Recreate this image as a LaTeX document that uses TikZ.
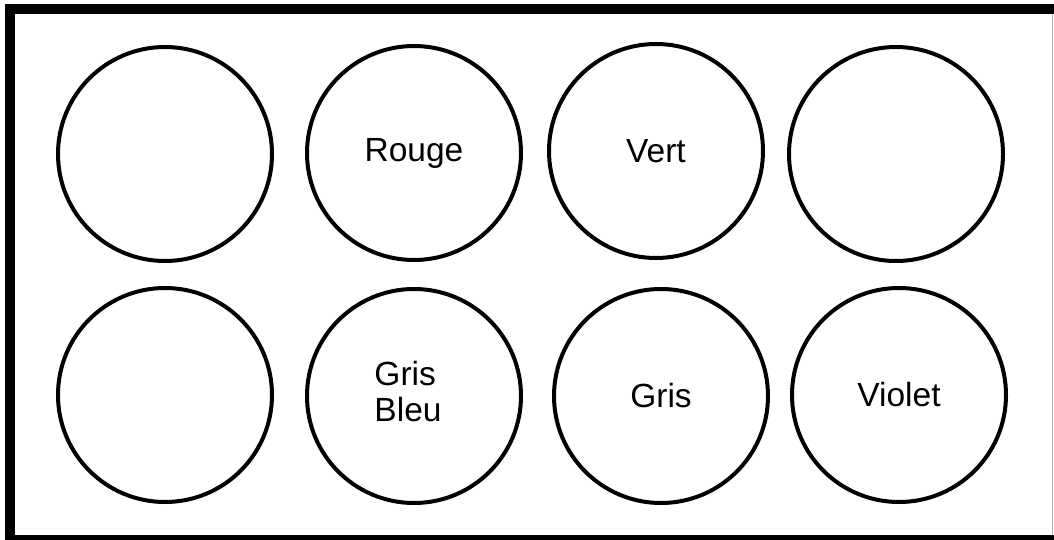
\documentclass[tikz,border=0pt]{standalone}
\usepackage{fontspec}
\setmainfont{Liberation Sans}
\usepackage{tikz}
\usetikzlibrary{positioning}

\begin{document}
\begin{tikzpicture}[
x=1pt, y=-1pt,
frame/.style={draw, line width=10pt},
well/.style={draw, circle, line width=4pt, minimum size=214pt, inner sep=0pt, align=center, font=\fontsize{33.5}{36}\selectfont},
welltext/.style={align=left, inner sep=0pt, font=\fontsize{33.5}{36}\selectfont}
]
\useasboundingbox[fill=white] (0,0) rectangle (1054,540);
\draw[frame] (1070,9) -- (10,9) -- (10,540) -- (1070,540);
\draw[gray!60, line width=1pt] (1052,14) -- (1052,535);

% first row
\node[well] (a1) at (165,154) {};
\node[well] (a2) at (414,153) {Rouge};
\node[well] (a3) at (656,151) {Vert};
\node[well] (a4) at (896,154) {};
% second row
\node[well] (b1) at (165,395) {};
\node[well] (b2) at (414,396) {};
\node[welltext] (b2txt) at ([shift={(-6,-4)}]b2.center) {Gris\\Bleu};
\node[well] (b3) at (661,396) {Gris};
\node[well] (b4) at (899,395) {Violet};
\end{tikzpicture}
\end{document}
